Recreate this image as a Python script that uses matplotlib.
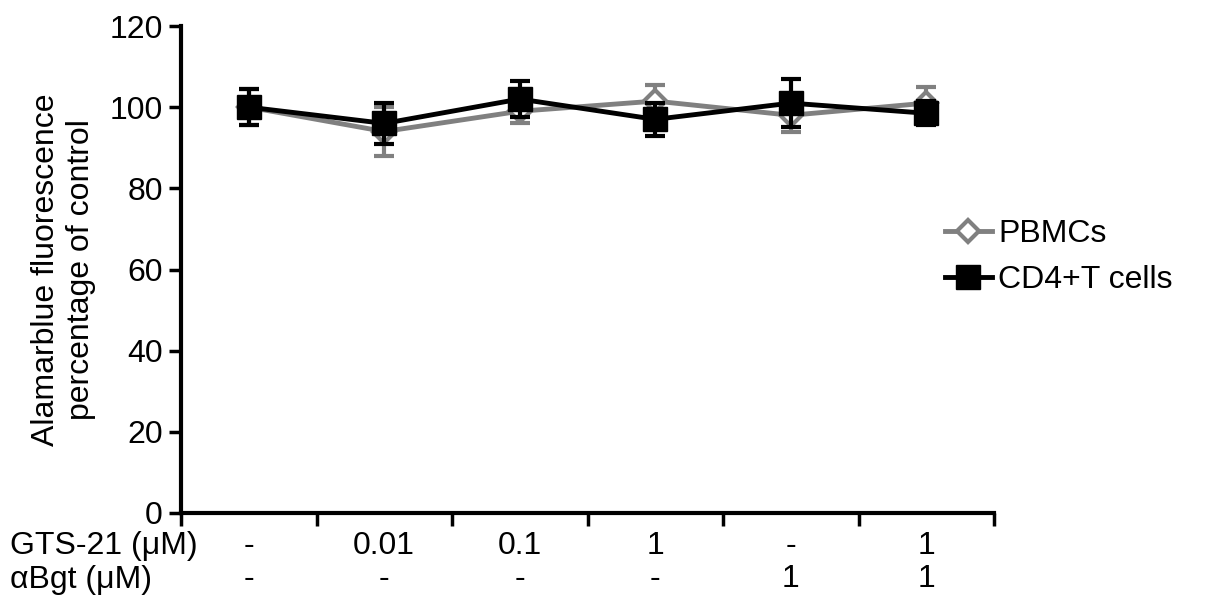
import matplotlib.pyplot as plt
from matplotlib.lines import Line2D
import numpy as np

plt.rcParams['font.family'] = ['Liberation Sans', 'DejaVu Sans']
FS = 23

# 処理条件
gts21 = ["-", "0.01", "0.1", "1", "-", "1"]
abgt = ["-", "-", "-", "-", "1", "1"]

# 値 (対照に対する%)
pbmc = [100, 94, 99, 101.5, 98, 101]
pbmc_err = [4.5, 6, 3, 4, 4, 4]
cd4 = [100, 96, 102, 97, 101, 98.5]
cd4_err = [4.5, 5, 4.5, 4, 6, 3]

x = np.arange(len(gts21))

fig = plt.figure(figsize=(12.05, 6.07), dpi=100)
ax = fig.add_axes([181 / 1205, 1 - 513 / 607, (994 - 181) / 1205, (513 - 26) / 607])

ax.errorbar(x, pbmc, yerr=pbmc_err, color="#808080", lw=3.5, marker="D", ms=11,
            mfc="white", mec="#808080", mew=3, capsize=7, capthick=3, elinewidth=3,
            zorder=2)
ax.errorbar(x, cd4, yerr=cd4_err, color="black", lw=3.5, marker="s", ms=17,
            mfc="black", mec="black", capsize=7, capthick=3, elinewidth=3,
            zorder=3)

ax.set_xlim(-0.5, len(gts21) - 0.5)
ax.set_ylim(0, 120)
ax.set_yticks(range(0, 121, 20))
ax.set_xticks(np.arange(-0.5, len(gts21), 1))
ax.set_xticklabels([])
ax.tick_params(axis="both", direction="out", length=9, width=2.5, labelsize=FS, pad=4)
for s in ["top", "right"]:
    ax.spines[s].set_visible(False)
for s in ["left", "bottom"]:
    ax.spines[s].set_linewidth(3)

ax.set_ylabel("Alamarblue fluorescence\npercentage of control", fontsize=FS, labelpad=10,
              linespacing=1.2)

# 下の条件表
for i in range(len(gts21)):
    ax.text(i, -8.2, gts21[i], ha="center", va="center", fontsize=FS, clip_on=False)
    ax.text(i, -16.3, abgt[i], ha="center", va="center", fontsize=FS, clip_on=False)
fig.text(10 / 1205, 1 - 546 / 607, "GTS-21 (μM)", ha="left", va="center", fontsize=FS)
fig.text(10 / 1205, 1 - 580 / 607, "αBgt (μM)", ha="left", va="center", fontsize=FS)

handles = [
    Line2D([], [], color="#808080", lw=3.5, marker="D", ms=11, mfc="white", mec="#808080", mew=3),
    Line2D([], [], color="black", lw=3.5, marker="s", ms=17, mfc="black", mec="black"),
]
ax.legend(handles, ["PBMCs", "CD4+T cells"], loc="center left", bbox_to_anchor=(0.94, 0.525),
          frameon=False, fontsize=FS, handlelength=1.45, handletextpad=0.2, labelspacing=0.5,
          borderaxespad=0, borderpad=0)

fig.savefig("out.png", dpi=100)
